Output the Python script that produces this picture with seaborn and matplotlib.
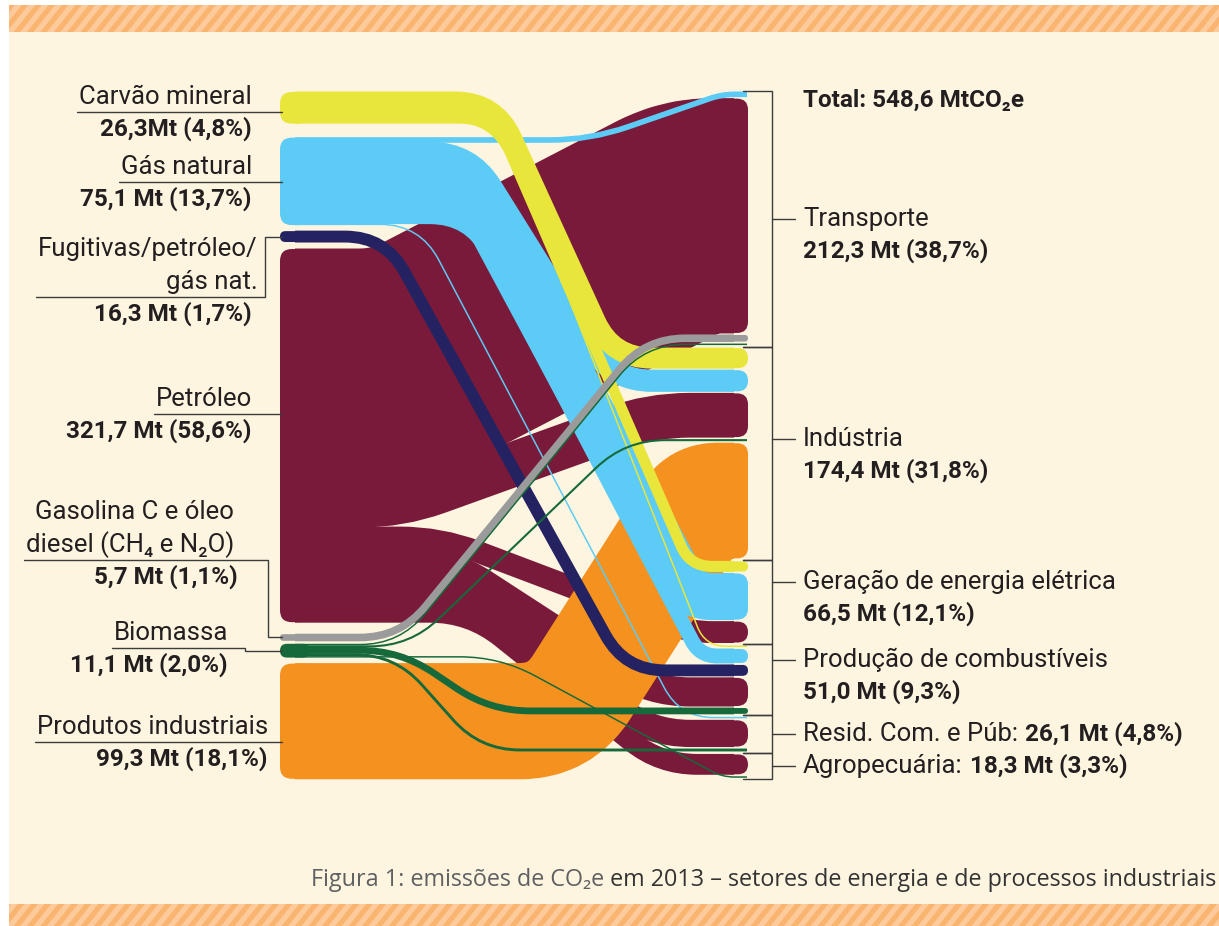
import numpy as np
import matplotlib
matplotlib.use("Agg")
import matplotlib.pyplot as plt
import seaborn as sns
from matplotlib.path import Path
from matplotlib.patches import PathPatch, FancyBboxPatch, Rectangle, Polygon

# ---------------- data ----------------
source_names = [["Carvão mineral"], ["Gás natural"], ["Fugitivas/petróleo/", "gás nat."],
                ["Petróleo"], ["Gasolina C e óleo", "diesel (CH₄ e N₂O)"], ["Biomassa"],
                ["Produtos industriais"]]
source_labels = ["26,3Mt (4,8%)", "75,1 Mt (13,7%)", "16,3 Mt (1,7%)", "321,7 Mt (58,6%)",
                 "5,7 Mt (1,1%)", "11,1 Mt (2,0%)", "99,3 Mt (18,1%)"]
target_names = ["Transporte", "Indústria", "Geração de energia elétrica",
                "Produção de combustíveis", "Resid. Com. e Púb:", "Agropecuária:"]
target_labels = ["212,3 Mt (38,7%)", "174,4 Mt (31,8%)", "66,5 Mt (12,1%)",
                 "51,0 Mt (9,3%)", "26,1 Mt (4,8%)", "18,3 Mt (3,3%)"]
total_label = "Total: 548,6 MtCO₂e"
caption_a = "Figura 1: emissões de CO₂e"
caption_b = " em 2013 – setores de energia e de processos industriais"

flow_source = [0, 0, 0, 1, 1, 1, 1, 1, 2, 3, 3, 3, 3, 3, 3, 4, 5, 5, 5, 5, 5, 6]
flow_target = [1, 2, 3, 0, 1, 2, 3, 4, 3, 0, 1, 2, 3, 4, 5, 0, 0, 1, 3, 4, 5, 1]
flow_value = [17.3, 8.7, 0.3,
              4.0, 18.3, 39.8, 12.0, 1.0,
              9.4,
              202.0, 37.7, 18.0, 24.3, 22.6, 17.1,
              5.7,
              0.6, 1.8, 5.0, 2.5, 1.2,
              99.3]

# ---------------- style / layout ----------------
sns.set_theme(style="white")
plt.rcParams["font.family"] = ["Roboto", "DejaVu Sans"]
src_colors = sns.color_palette(["#E9E63B", "#5CCBF5", "#252262", "#7A1A3B",
                                "#9B9B9B", "#16693A", "#F5921F"])
CREAM = "#FEF5E1"
LINE = "#3C3C3C"
TXT = "#231F20"
K = 1.16          # px per Mt
MINW = 1.5
XL, XR = 280, 748
left_top = 92
left_gaps = [14, 6, 7, 12, 3, 6]
right_top = 92
intra_gap, inter_gap = 2.0, 3.0
# x-range (start, end) of the sloped part of each ribbon (layout only)
bend_x = [(495, 612), (495, 690), (500, 705),
          (590, 722), (470, 612), (470, 690), (470, 700), (420, 680),
          (385, 625),
          (400, 690), (400, 650), (440, 690), (450, 650), (460, 650), (470, 660),
          (400, 645),
          (400, 645), (410, 625), (400, 490), (395, 480), (500, 722),
          (560, 700)]
draw_order = [3, 6, 1, 0, 2, 4, 5]

W, H = 1219, 926
fig = plt.figure(figsize=(W / 100, H / 100), dpi=100)
fig.patch.set_facecolor("white")
ax = fig.add_axes([0, 0, 1, 1])
ax.set_xlim(0, W)
ax.set_ylim(H, 0)
ax.axis("off")

# background & hatched bands
ax.add_patch(Rectangle((9, 5), W - 9, 900, fc=CREAM, ec="none", zorder=0))
for (yt, yb) in [(5, 32), (904, 926)]:
    band = Rectangle((9, yt), W - 9, yb - yt, fc="#FCCA9B", ec="none", zorder=0.5)
    ax.add_patch(band)
    slant = 0.8 * (yb - yt)
    x0 = -40.0
    while x0 < W + 10:
        st = Polygon([(x0, yb), (x0 + 6.5, yb), (x0 + 6.5 + slant, yt), (x0 + slant, yt)],
                     closed=True, fc="#F9B46F", ec="none", zorder=0.6)
        ax.add_patch(st)
        st.set_clip_path(band)
        x0 += 13.4

# ---------------- layout computation ----------------
nF = len(flow_value)
hs = [max(v * K, MINW) for v in flow_value]
nS, nT = len(source_names), len(target_names)

yl = [0.0] * nF
node_top, node_bot = [], []
y = left_top
for s in range(nS):
    node_top.append(y)
    for f in sorted([f for f in range(nF) if flow_source[f] == s], key=lambda f: flow_target[f]):
        yl[f] = y + hs[f] / 2
        y += hs[f]
    node_bot.append(y)
    if s < nS - 1:
        y += left_gaps[s]

yr = [0.0] * nF
ytop_r = [0.0] * nF
tgt_top, tgt_bot = [], []
y = right_top
for t in range(nT):
    tgt_top.append(y)
    fl = sorted([f for f in range(nF) if flow_target[f] == t], key=lambda f: flow_source[f])
    for i, f in enumerate(fl):
        ytop_r[f] = y
        yr[f] = y + hs[f] / 2
        y += hs[f]
        if i < len(fl) - 1:
            y += intra_gap
    tgt_bot.append(y)
    y += inter_gap


def fillet_path(pts, rmax):
    verts = [pts[0]]
    codes = [Path.MOVETO]
    for i in range(1, len(pts) - 1):
        p0, p1, p2 = (np.array(pts[i - 1], float), np.array(pts[i], float), np.array(pts[i + 1], float))
        d1, d2 = p1 - p0, p2 - p1
        l1, l2 = np.hypot(*d1), np.hypot(*d2)
        if l1 < 1e-6 or l2 < 1e-6:
            verts.append(tuple(p1)); codes.append(Path.LINETO)
            continue
        r = min(rmax, 0.5 * l1, 0.5 * l2)
        a = p1 - d1 / l1 * r
        b = p1 + d2 / l2 * r
        verts += [tuple(a), tuple(p1), tuple(b)]
        codes += [Path.LINETO, Path.CURVE3, Path.CURVE3]
    verts.append(pts[-1]); codes.append(Path.LINETO)
    return Path(verts, codes)


PX2PT = 72 / 100
for s in draw_order:
    col = src_colors[s]
    z = 2 + draw_order.index(s)
    nh = node_bot[s] - node_top[s]
    ax.add_patch(FancyBboxPatch((XL, node_top[s]), 30, nh,
                                boxstyle=f"round,pad=0,rounding_size={min(12, nh / 2)}",
                                fc=col, ec="none", zorder=z))
    for f in [f for f in range(nF) if flow_source[f] == s]:
        h = hs[f]
        y0, y1 = yl[f], yr[f]
        xa, xb = bend_x[f]
        big = h > 5
        xend = XR - 14 if big else XR - 1
        if abs(y1 - y0) < 0.5:
            pts = [(XL + 15, y0), (xend, y1)]
        else:
            pts = [(XL + 15, y0), (xa, y0), (xb, y1), (xend, y1)]
        path = fillet_path(pts, 40)
        lw = (h + 1.0) if h > 3 else h
        ax.add_patch(PathPatch(path, fill=False, ec=col, lw=lw * PX2PT,
                               capstyle="butt", joinstyle="round", zorder=z))
        if big:
            ax.add_patch(FancyBboxPatch((XR - 26, ytop_r[f]), 26, h,
                                        boxstyle=f"round,pad=0,rounding_size={min(11, h / 2)}",
                                        fc=col, ec="none", zorder=z))

# ---------------- right brackets & labels ----------------
FSN, FSV = 18.5, 17.5
BX = 772
label_dy = [0, -14, -20, -20, 0, 0]
ax.text(803, 100, total_label, ha="left", va="center", fontsize=FSV, fontweight="bold",
        color=TXT, zorder=20)
right_inline = []
for t in range(nT):
    top, bot = tgt_top[t] - 1.5, tgt_bot[t] + 1.5
    ax.plot([743, BX, BX, 743], [top, top, bot, bot], color=LINE, lw=1.0, zorder=15,
            solid_joinstyle="miter")
    ty = (tgt_top[t] + tgt_bot[t]) / 2 + label_dy[t]
    ax.plot([BX, 795], [ty, ty], color=LINE, lw=1.0, zorder=15)
    tn = ax.text(803, ty, target_names[t], ha="left", va="center", fontsize=FSN,
                 color=TXT, zorder=20)
    if t < 4:
        ax.text(803, ty + 32, target_labels[t], ha="left", va="center", fontsize=FSV,
                fontweight="bold", color=TXT, zorder=20)
    else:
        right_inline.append((tn, ty, target_labels[t]))

# ---------------- left labels ----------------
line_y = [112, 182, 297, 414, 560, 648, 742]
name_rx = [252, 252, 258, 252, 234, 228, 268]
val_rx = [252, 252, 252, 252, 238, 228, 268]
conn_x = [None, None, 265, None, 268, 245, None]
left_texts = []
for s in range(nS):
    ly = line_y[s]
    lines = source_names[s]
    txts = []
    for j, ln in enumerate(lines):
        yy = ly - 15 - 33 * (len(lines) - 1 - j)
        txts.append(ax.text(name_rx[s], yy, ln, ha="right", va="center", fontsize=FSN,
                            color=TXT, zorder=20))
    ax.text(val_rx[s], ly + 17, source_labels[s], ha="right", va="center", fontsize=FSV,
            fontweight="bold", color=TXT, zorder=20)
    left_texts.append(txts)

cap_b = ax.text(1216, 880, caption_b, ha="right", va="center", fontsize=16.8, color="#333333",
                family=["Open Sans", "DejaVu Sans"], zorder=20)

fig.canvas.draw()
rend = fig.canvas.get_renderer()
inv = ax.transData.inverted()
xcap = inv.transform(cap_b.get_window_extent(rend))[:, 0].min()
ax.text(xcap, 880, caption_a, ha="right", va="center", fontsize=16.8, color="#5F6062",
        family=["Open Sans", "DejaVu Sans"], zorder=20)
for s in range(nS):
    xmin = min(inv.transform(t.get_window_extent(rend))[:, 0].min() for t in left_texts[s])
    ly = line_y[s]
    cy = (node_top[s] + node_bot[s]) / 2
    if conn_x[s] is None:
        ax.plot([xmin - 2, XL + 2], [ly, ly], color=LINE, lw=1.0, zorder=15)
    else:
        cx = conn_x[s]
        ax.plot([xmin - 2, cx, cx, XL + 2], [ly, ly, cy, cy], color=LINE, lw=1.0, zorder=15,
                solid_joinstyle="miter")
for tn, ty, lab in right_inline:
    xmax = inv.transform(tn.get_window_extent(rend))[:, 0].max()
    ax.text(xmax + 7, ty, lab, ha="left", va="center", fontsize=FSV, fontweight="bold",
            color=TXT, zorder=20)

fig.savefig("out.png", dpi=100, facecolor=fig.get_facecolor())
